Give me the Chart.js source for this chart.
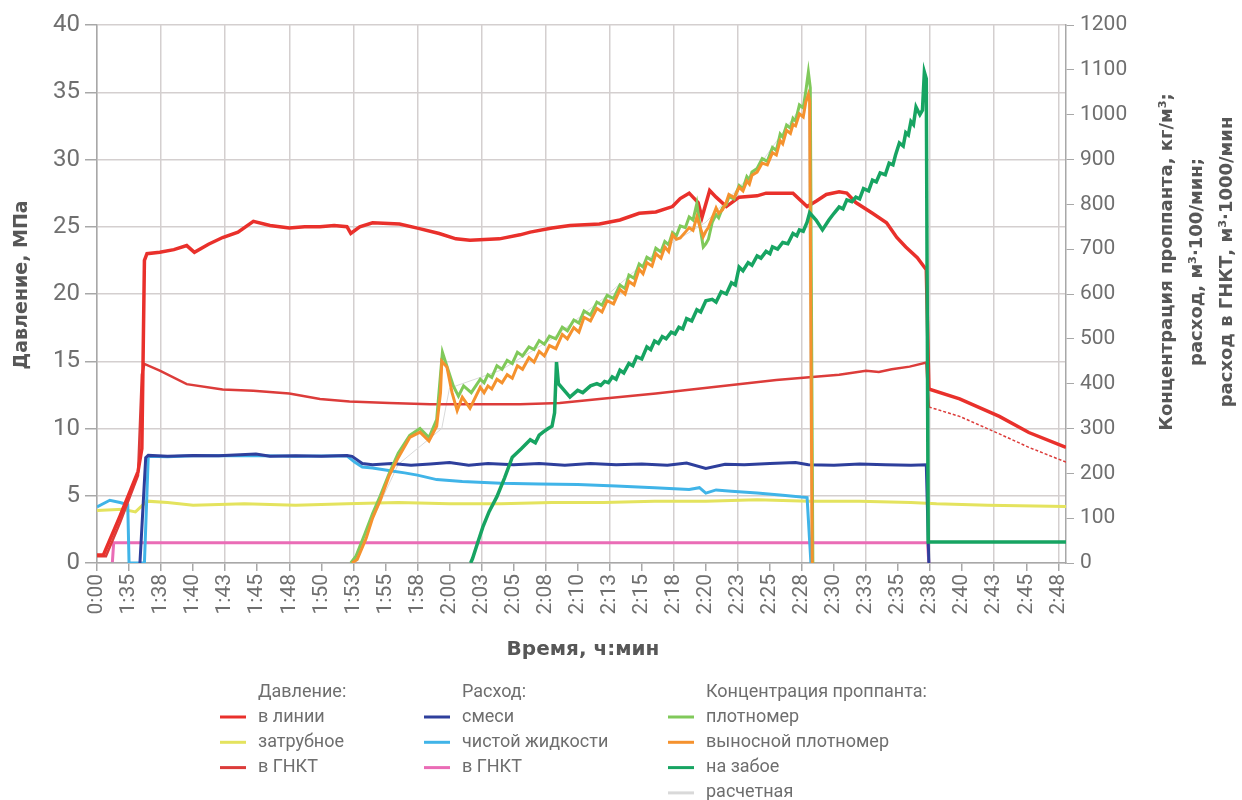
<!DOCTYPE html>
<html>
<head>
<meta charset="utf-8">
<script src="https://cdn.jsdelivr.net/npm/chart.js@4.4.1/dist/chart.umd.min.js"></script>
<style>
  html, body { margin: 0; padding: 0; background: #fff; }
</style>
</head>
<body>
<canvas id="chart" width="1242" height="800"></canvas>
<script>
// time axis: one tick every 2.5 min starting at 92.5 min (first tick is shown as 0:00)
const timeLabels = ["0:00", "1:35", "1:38", "1:40", "1:43", "1:45", "1:48", "1:50", "1:53", "1:55",
  "1:58", "2:00", "2:03", "2:05", "2:08", "2:10", "2:13", "2:15", "2:18", "2:20", "2:23", "2:25",
  "2:28", "2:30", "2:33", "2:35", "2:38", "2:40", "2:43", "2:45", "2:48"];
const timeStart = 92.5;
const timeStep = 2.5;
const timeEnd = 168.1;

// pressure, MPa  [time in min, value]
const pressureLine = [[92.5,0.6],[93.0,0.6],[94.3,3.5],[95.7,6.8],[96.0,8.5],[96.2,22.5],[96.4,23.0],
  [97.4,23.1],[98.5,23.3],[99.5,23.6],[100.1,23.1],[101.2,23.7],[102.3,24.2],[103.5,24.6],[104.7,25.4],
  [106.0,25.1],[107.5,24.9],[108.7,25.0],[109.9,25.0],[111.0,25.1],[112.0,25.0],[112.3,24.5],[113.0,25.0],
  [114.0,25.3],[116.1,25.2],[117.5,24.9],[119.2,24.5],[120.5,24.1],[121.6,24.0],[123.9,24.1],[125.5,24.4],
  [126.3,24.6],[128.0,24.9],[129.4,25.1],[131.7,25.2],[133.3,25.5],[134.8,26.0],[136.1,26.1],[137.4,26.5],
  [138.0,27.1],[138.7,27.5],[139.4,26.8],[139.7,25.7],[140.3,27.7],[140.8,27.2],[141.6,26.5],[142.6,27.2],
  [144.0,27.3],[144.7,27.5],[146.8,27.5],[147.9,26.5],[148.6,26.9],[149.4,27.4],[150.4,27.6],[151.0,27.5],
  [151.7,26.8],[153.0,26.0],[154.1,25.3],[154.9,24.2],[155.6,23.5],[156.5,22.7],[157.2,21.8],[157.4,13.0],
  [157.5,12.9],[159.8,12.2],[162.9,10.9],[165.2,9.7],[168.1,8.6]];
const pressureAnnulus = [[92.5,3.9],[94.5,4.0],[95.5,3.8],[96.4,4.6],[98,4.5],[100,4.3],[104,4.4],[108,4.3],
  [112,4.4],[116,4.5],[120,4.4],[124,4.4],[128,4.5],[132,4.5],[136,4.6],[140,4.6],[144,4.7],[148,4.6],
  [152,4.6],[156,4.5],[158,4.4],[162,4.3],[168.1,4.2]];
const pressureCoil = [[92.5,0.5],[93.2,0.5],[94.3,3.0],[95.7,6.5],[96.0,14.0],[96.2,14.8],[97.4,14.3],
  [99.5,13.3],[102.3,12.9],[104.7,12.8],[107.5,12.6],[109.9,12.2],[112.2,12.0],[115.3,11.9],[118.5,11.8],
  [122.4,11.8],[125.5,11.8],[128.6,11.9],[131.7,12.2],[136.1,12.6],[140.8,13.1],[145.5,13.6],[150.4,14.0],
  [152.5,14.3],[153.5,14.2],[154.5,14.4],[155.9,14.6],[157.2,14.9],[157.4,11.6],[159.8,10.9],[162.9,9.6],
  [165.2,8.6],[168.1,7.5]];

// flow rates, right axis units
const rateSlurry = [[95.85,0],[96.3,235],[96.5,240],[98,238],[100,240],[102,239],[104.9,243],[106,238],
  [108,239],[110,238],[112,240],[112.4,238],[113.2,222],[114,219],[115.5,222],[117,218],[118.5,221],
  [120,224],[121.5,218],[123,222],[125,219],[127,222],[129,218],[131,222],[133,219],[135,221],[137,218],
  [138.5,223],[140,211],[141.5,220],[143,219],[145,222],[147,224],[148,219],[150,218],[152,221],[154,219],
  [156,218],[157.2,219],[157.4,0]];
const rateClean = [[92.5,125],[93.5,140],[94.3,135],[94.9,130],[95.0,0],[96.2,0],[96.5,238],[98,237],
  [100,239],[104,240],[108,238],[112,239],[112.6,225],[113.2,214],[114,212],[115.5,205],[116.5,201],
  [117.5,196],[119,186],[121,182],[124,178],[127,176],[130,175],[133,172],[136,168],[138.7,164],[139.5,168],
  [140.0,156],[140.8,163],[142,160],[144,156],[146,151],[147.9,146],[148.2,0]];
const rateCoil = [[93.7,2],[93.8,45],[100,45],[110,45],[120,45],[130,45],[140,45],[150,45],[157.3,45],[157.4,0]];

// proppant concentration, kg/m3
const concDensimeter = [[112.3,0],[112.7,15],[113.4,65],[114.0,110],[114.6,150],[115.3,200],[116.0,245],
  [116.9,285],[117.7,300],[118.4,280],[119.0,320],[119.3,420],[119.45,470],[119.9,430],[120.3,395],
  [120.7,372],[121.1,395],[121.7,380],[122.4,410],[122.7,402],[123.0,420],[123.3,414],[123.7,440],
  [124.1,432],[124.5,452],[124.9,445],[125.3,470],[125.7,462],[126.2,482],[126.6,476],[127.0,496],
  [127.4,488],[127.8,506],[128.3,500],[128.8,526],[129.2,518],[129.7,542],[130.1,535],[130.5,562],
  [131.0,553],[131.5,582],[131.9,575],[132.3,597],[132.8,590],[133.3,620],[133.7,612],[134.0,642],
  [134.4,635],[134.8,667],[135.1,660],[135.4,682],[135.8,675],[136.1,702],[136.5,694],[136.8,717],
  [137.1,710],[137.4,737],[137.7,730],[138.0,752],[138.4,748],[138.7,772],[139.0,765],[139.3,802],
  [139.6,740],[139.8,705],[140.0,712],[140.2,722],[140.5,760],[140.8,777],[141.0,770],[141.3,792],
  [141.6,800],[141.8,817],[142.2,812],[142.6,842],[142.9,835],[143.2,862],[143.4,855],[143.6,872],
  [144.0,880],[144.4,902],[144.8,896],[145.2,927],[145.5,920],[145.8,957],[146.0,950],[146.3,977],
  [146.6,970],[146.8,992],[147.0,986],[147.3,1022],[147.6,1015],[147.8,1052],[148.0,1095],[148.15,1060],
  [148.35,0]];
const concRemote = [[112.4,0],[112.8,8],[113.5,55],[114.0,100],[114.6,140],[115.3,195],[116.0,235],
  [116.9,280],[117.7,292],[118.4,272],[119.0,305],[119.3,380],[119.4,450],[119.8,437],[120.2,380],
  [120.6,340],[121.0,370],[121.6,345],[122.4,392],[122.7,380],[123.0,395],[123.3,388],[123.7,410],
  [124.1,402],[124.5,420],[124.9,412],[125.3,440],[125.7,432],[126.2,458],[126.6,448],[127.0,472],
  [127.4,462],[127.8,485],[128.3,478],[128.8,510],[129.2,500],[129.7,525],[130.1,515],[130.5,548],
  [131.0,540],[131.5,568],[131.9,560],[132.3,585],[132.8,578],[133.3,610],[133.7,600],[134.0,628],
  [134.4,620],[134.8,655],[135.1,645],[135.4,670],[135.8,662],[136.1,690],[136.5,680],[136.8,705],
  [137.1,695],[137.4,732],[137.7,722],[138.0,725],[138.4,738],[138.7,748],[139.0,742],[139.3,772],
  [139.6,745],[139.8,728],[140.0,740],[140.2,748],[140.5,770],[140.8,792],[141.0,780],[141.3,788],
  [141.6,805],[141.8,822],[142.2,815],[142.6,838],[142.9,830],[143.2,852],[143.4,845],[143.6,865],
  [144.0,872],[144.4,892],[144.8,888],[145.2,915],[145.5,910],[145.8,942],[146.0,935],[146.3,965],
  [146.6,958],[146.8,978],[147.0,975],[147.3,1002],[147.6,995],[147.8,1028],[148.0,1045],[148.1,1030],
  [148.3,0]];
const concBottom = [[121.65,0],[121.8,10],[122.2,45],[122.6,80],[123.1,115],[123.7,148],[124.3,190],
  [124.9,236],[125.6,255],[126.3,275],[126.7,268],[127.0,285],[127.3,292],[127.7,300],[128.0,305],[128.2,335],
  [128.35,448],[128.5,400],[128.8,390],[129.4,370],[130.0,385],[130.4,380],[131.0,395],[131.5,400],
  [131.8,396],[132.1,405],[132.4,402],[132.7,415],[133.0,410],[133.3,430],[133.6,424],[134.0,445],
  [134.3,440],[134.6,460],[135.0,455],[135.4,482],[135.7,476],[136.0,495],[136.3,490],[136.6,505],
  [136.9,500],[137.3,515],[137.6,511],[137.9,526],[138.2,522],[138.5,545],[138.9,540],[139.3,565],
  [139.6,560],[140.0,585],[140.5,588],[140.8,582],[141.2,605],[141.6,600],[142.0,625],[142.3,620],
  [142.6,660],[142.9,652],[143.3,670],[143.6,664],[144.0,685],[144.3,680],[144.7,695],[145.0,690],
  [145.2,705],[145.6,700],[146.0,715],[146.4,712],[146.8,735],[147.1,730],[147.3,743],[147.6,740],
  [147.9,760],[148.1,781],[148.6,765],[149.1,743],[149.6,765],[150.0,780],[150.4,794],[150.7,790],
  [151.0,810],[151.4,806],[151.7,816],[152.0,812],[152.3,835],[152.7,830],[153.0,854],[153.3,850],
  [153.6,870],[154.0,866],[154.3,892],[154.6,888],[154.8,910],[155.1,937],[155.4,930],[155.6,960],
  [155.8,955],[156.0,985],[156.2,978],[156.4,1017],[156.7,1000],[156.9,1010],[157.05,1095],[157.2,1080],
  [157.35,47],[160,47],[164,47],[168.1,47]];
const concCalc = [[112.4,0],[116,220],[119.4,300],[120,390],[124,430],[128,500],[132,590],[136,690],
  [140,760],[144,880],[148,1040],[148.2,0]];

const tickGray = '#6f6f6f';
const titleGray = '#575757';
const gridGray = '#d4cfcf';
const axisGray = '#a8a8a8';

function pts(arr) {
  return arr.map(p => ({ x: p[0], y: p[1] }));
}

function series(label, arr, color, width, axis, order, extra) {
  return Object.assign({
    label: label,
    data: pts(arr),
    borderColor: color,
    backgroundColor: color,
    borderWidth: width,
    yAxisID: axis,
    order: order,
    pointRadius: 0,
    tension: 0,
    fill: false
  }, extra || {});
}

const datasets = [
  series('в линии', pressureLine, '#e9302b', 3.5, 'y', 4),
  series('затрубное', pressureAnnulus, '#e4e35e', 3, 'y', 8),
  series('в ГНКТ', pressureCoil, '#dc3c3a', 2.5, 'y', 5, {
    segment: {
      borderDash: ctx => ctx.p0.parsed.x >= 157.4 ? [3, 2] : undefined,
      borderWidth: ctx => ctx.p0.parsed.x >= 157.4 ? 1.5 : undefined
    }
  }),
  series('смеси', rateSlurry, '#2e3f9c', 3, 'y2', 6),
  series('чистой жидкости', rateClean, '#40b4e8', 3, 'y2', 7),
  series('в ГНКТ', rateCoil, '#ea6cb6', 3, 'y2', 9),
  series('плотномер', concDensimeter, '#80c95a', 3, 'y2', 3),
  series('выносной плотномер', concRemote, '#f5922e', 3, 'y2', 2),
  series('на забое', concBottom, '#17a462', 3.5, 'y2', 1),
  series('расчетная', concCalc, '#d9d9d9', 1, 'y2', 10)
];

// legend columns: header and dataset indices
const legendHeaders = ['Давление:', 'Расход:', 'Концентрация проппанта:'];
const legendColumns = [[0, 1, 2], [3, 4, 5], [6, 7, 8, 9]];
const legendX = [258, 462, 706];

const rightTitle = ['Концентрация проппанта, кг/м³;', 'расход, м³·100/мин;', 'расход в ГНКТ, м³·1000/мин'];

const textPlugin = {
  id: 'textPlugin',
  afterDraw(chart) {
    const ctx = chart.ctx;
    ctx.save();
    ctx.fillStyle = titleGray;
    ctx.textAlign = 'center';
    ctx.textBaseline = 'middle';

    ctx.font = 'bold 19px "DejaVu Sans", sans-serif';
    ctx.save();
    ctx.translate(22, 285);
    ctx.rotate(-Math.PI / 2);
    ctx.fillText('Давление, МПа', 0, 0);
    ctx.restore();

    ctx.font = 'bold 20px "DejaVu Sans", sans-serif';
    ctx.fillText('Время, ч:мин', 583, 650);

    ctx.font = 'bold 18px "DejaVu Sans", sans-serif';
    rightTitle.forEach((line, i) => {
      ctx.save();
      ctx.translate(1167 + i * 30, 262);
      ctx.rotate(-Math.PI / 2);
      ctx.fillText(line, 0, 0);
      ctx.restore();
    });

    // legend
    ctx.font = '18px Roboto, sans-serif';
    ctx.textAlign = 'left';
    ctx.fillStyle = '#6e6e6e';
    legendColumns.forEach((col, c) => {
      const x = legendX[c];
      ctx.fillText(legendHeaders[c], x, 692);
      col.forEach((di, r) => {
        const ds = chart.data.datasets[di];
        const y = 717 + r * 25.3;
        ctx.strokeStyle = ds.borderColor;
        ctx.lineWidth = 3;
        ctx.beginPath();
        ctx.moveTo(x - 38, y);
        ctx.lineTo(x - 12, y);
        ctx.stroke();
        ctx.fillText(ds.label, x, y);
      });
    });
    ctx.restore();
  }
};

new Chart(document.getElementById('chart'), {
  type: 'line',
  data: { datasets: datasets },
  options: {
    responsive: false,
    animation: false,
    devicePixelRatio: 1,
    layout: { padding: { top: 25 } },
    plugins: {
      legend: { display: false },
      tooltip: { enabled: false }
    },
    scales: {
      x: {
        type: 'linear',
        min: timeStart,
        max: timeEnd,
        afterFit: s => { s.height = 237; },
        ticks: {
          stepSize: timeStep,
          includeBounds: false,
          autoSkip: false,
          minRotation: 90,
          maxRotation: 90,
          padding: 3,
          color: tickGray,
          font: { family: 'Roboto, sans-serif', size: 21 },
          callback: v => timeLabels[Math.round((v - timeStart) / timeStep)]
        },
        grid: {
          color: ctx => ctx.index % 2 === 0 ? gridGray : 'rgba(0,0,0,0)',
          tickColor: axisGray,
          tickLength: 8,
          lineWidth: 1.5
        },
        border: { color: axisGray, width: 1.5 }
      },
      y: {
        position: 'left',
        min: 0,
        max: 40,
        afterFit: s => { s.width = 97; },
        ticks: {
          stepSize: 5,
          padding: 5,
          color: tickGray,
          font: { family: 'Roboto, sans-serif', size: 24 }
        },
        grid: { color: gridGray, tickColor: axisGray, tickLength: 12, lineWidth: 1.5 },
        border: { color: axisGray, width: 1.5 }
      },
      y2: {
        position: 'right',
        min: 0,
        max: 1200,
        afterFit: s => { s.width = 176; },
        ticks: {
          stepSize: 100,
          padding: 6,
          color: tickGray,
          font: { family: 'Roboto, sans-serif', size: 21 },
          callback: v => String(v)
        },
        grid: { drawOnChartArea: false, tickColor: axisGray, tickLength: 8 },
        border: { color: axisGray, width: 1.5 }
      }
    }
  },
  plugins: [textPlugin]
});
</script>
</body>
</html>
